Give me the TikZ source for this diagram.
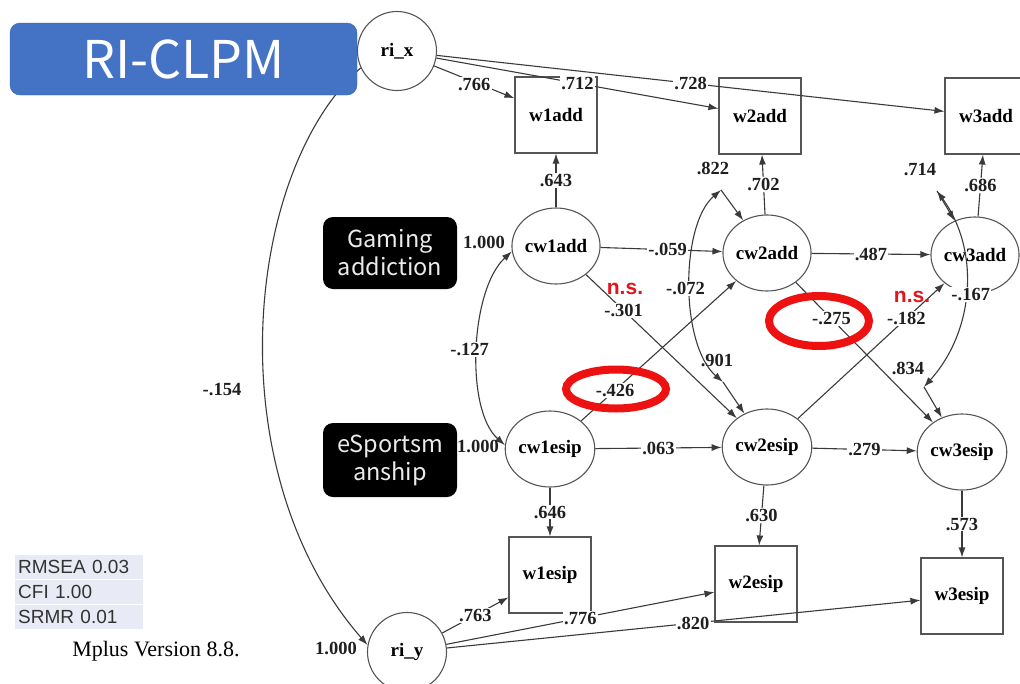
\documentclass[tikz,border=0pt]{standalone}
\usepackage{fontspec}
\setmainfont{Liberation Serif}
\newfontfamily\jpsans{Noto Sans CJK JP}
\newfontfamily\arialf{Liberation Sans}
\usetikzlibrary{shapes.geometric,arrows.meta}
\definecolor{lc}{HTML}{3A3A3A}
\definecolor{nc}{HTML}{555555}
\definecolor{riblue}{HTML}{4472C4}
\definecolor{ribord}{HTML}{3B64B0}
\definecolor{tbl}{HTML}{E8EAF5}
\definecolor{nsred}{HTML}{E3141B}
\definecolor{ringred}{HTML}{EE1111}
\begin{document}
\begin{tikzpicture}[x=1pt,y=-1pt,
  lat/.style={ellipse,draw=nc,line width=1.1pt,minimum width=82pt,minimum height=76pt,inner sep=0pt,font=\fontsize{19}{22}\selectfont\bfseries},
  ri/.style={circle,draw=nc,line width=1.1pt,minimum size=79pt,inner sep=0pt,font=\fontsize{19}{22}\selectfont\bfseries},
  obs/.style={rectangle,draw=nc,line width=1.1pt,minimum width=82pt,minimum height=76pt,inner sep=0pt,font=\fontsize{19}{22}\selectfont\bfseries},
  arr/.style={draw=lc,line width=1.1pt,-{Latex[length=10pt,width=7pt]}},
  darr/.style={draw=lc,line width=1.1pt,{Latex[length=10pt,width=7pt]}-{Latex[length=10pt,width=7pt]}},
  num/.style={font=\fontsize{18.5}{20}\selectfont\bfseries,text=black!88,fill=white,inner sep=1.2pt},
  numplain/.style={font=\fontsize{18.5}{20}\selectfont\bfseries,text=black!88,inner sep=0pt},
  ns/.style={font=\arialf\bfseries\fontsize{21}{22}\selectfont,text=nsred,inner sep=0pt},
  blk/.style={fill=black,rounded corners=10pt,minimum width=134pt,text=white!92!black,align=center,font=\jpsans\fontsize{23.5}{28}\selectfont},
  tbrow/.style={fill=tbl,anchor=west,text width=122pt,align=left,inner xsep=3pt,inner ysep=0pt,minimum height=23.5pt,text=black!80,font=\arialf\fontsize{19}{20}\selectfont},
  ring/.style={ellipse,draw=ringred,line width=8pt,inner sep=0pt}
]
\useasboundingbox (0,0) rectangle (1020,683);

% random intercepts
\node[ri] (rix) at (397,51) {ri\_x};
\node[ri] (riy) at (407,652) {ri\_y};

% -.154 covariance of random intercepts (starts behind the title box)
\draw[arr] (rix.205) .. controls (245,170) and (215,470) .. (riy.170);

% title
\node[draw=ribord,fill=riblue,rounded corners=10pt,minimum width=347pt,minimum height=72pt,inner sep=0pt,text=white,font=\jpsans\fontsize{52}{54}\selectfont] (title) at (183.5,59) {RI-CLPM};

% construct labels
\node[blk,minimum height=72pt] (ga) at (390,253) {Gaming\\addiction};
\node[blk,minimum height=74pt] (es) at (390,460) {eSportsm\\anship};

% observed
\node[obs] (w1add) at (556,115) {w1add};
\node[obs] (w2add) at (760,116) {w2add};
\node[obs] (w3add) at (986,116) {w3add};
\node[obs] (w1esip) at (550,575) {w1esip};
\node[obs] (w2esip) at (756,584) {w2esip};
\node[obs] (w3esip) at (962,596) {w3esip};

% within latents
\node[lat] (cw1add) at (556,246) {cw1add};
\node[lat] (cw2add) at (767,253) {cw2add};
\node[lat] (cw3add) at (975,255) {cw3add};
\node[lat] (cw1esip) at (550,449) {cw1esip};
\node[lat] (cw2esip) at (767,447) {cw2esip};
\node[lat] (cw3esip) at (962,452) {cw3esip};

% random intercept loadings
\draw[arr] (rix) -- (w1add) node[num,pos=0.5,yshift=-2pt] (l766) {.766};
\draw[arr] (rix) -- (w2add) node[num,pos=0.5] (l712) {.712};
\draw[arr] (rix) -- (w3add) node[num,pos=0.5] (l728) {.728};
\draw[arr] (riy) -- (w1esip) node[num,pos=0.5] (l763) {.763};
\draw[arr] (riy) -- (w2esip) node[num,pos=0.5] (l776) {.776};
\draw[arr] (riy) -- (w3esip) node[num,pos=0.52] (l820) {.820};

% within loadings
\draw[arr] (cw1add) -- (w1add) node[num,pos=0.5] (l643) {.643};
\draw[arr] (cw2add) -- (w2add) node[num,pos=0.5] (l702) {.702};
\draw[arr] (cw3add) -- (w3add) node[num,pos=0.5] (l686) {.686};
\draw[arr] (cw1esip) -- (w1esip) node[num,pos=0.5] (l646) {.646};
\draw[arr] (cw2esip) -- (w2esip) node[num,pos=0.5] (l630) {.630};
\draw[arr] (cw3esip) -- (w3esip) node[num,pos=0.5] (l573) {.573};

% autoregressive
\draw[arr] (cw1add) -- (cw2add) node[num,pos=0.55] (l059) {-.059};
\draw[arr] (cw2add) -- (cw3add) node[num,pos=0.5] (l487) {.487};
\draw[arr] (cw1esip) -- (cw2esip) node[num,pos=0.5] (l063) {.063};
\draw[arr] (cw2esip) -- (cw3esip) node[num,pos=0.5] (l279) {.279};

% cross-lagged
\draw[arr] (cw1add) -- (cw2esip) node[num,pos=0.25] (l301) {-.301};
\draw[arr] (cw1esip) -- (cw2add) node[num,pos=0.22] (l426) {-.426};
\draw[arr] (cw2add) -- (cw3esip) node[num,pos=0.26] (l275) {-.275};
\draw[arr] (cw2esip) -- (cw3add) node[num,pos=0.74] (l182) {-.182};

% residuals
\coordinate (r2a) at (721,190);
\coordinate (r2e) at (723,382);
\coordinate (r3a) at (937,191);
\coordinate (r3e) at (924,387);
\draw[arr] (r2a) -- (cw2add);
\draw[arr] (r2e) -- (cw2esip);
\draw[arr] (r3a) -- (cw3add);
\draw[arr] (r3e) -- (cw3esip);
\node[numplain] (l822) at (713,168) {.822};
\node[numplain] (l901) at (717,360) {.901};
\node[numplain] (l714) at (920,170) {.714};
\node[numplain] (l834) at (908,368) {.834};

% covariances
\draw[darr] (cw1add.187) .. controls (470,290) and (465,410) .. (cw1esip.175) node[num,pos=0.5,xshift=-8pt] (l127) {-.127};
\draw[darr] (r2a) .. controls (680,225) and (680,345) .. (r2e) node[num,pos=0.5,xshift=-5pt,yshift=-3pt] (l072) {-.072};
\draw[darr] (r3a) .. controls (980,250) and (975,330) .. (r3e) node[num,pos=0.5,xshift=5pt,yshift=-5pt] (l167) {-.167};

% variances / free labels
\node[numplain] (v1) at (484,242) {1.000};
\node[numplain] (v2) at (478,446) {1.000};
\node[numplain] (v3) at (336,648) {1.000};
\node[numplain] (l154) at (222,390) {-.154};

% n.s.
\node[ns] (ns1) at (625,289) {n.s.};
\node[ns] (ns2) at (912,297) {n.s.};

% fit table
\node[tbrow] (fit1) at (15,567) {RMSEA 0.03};
\node[tbrow] (fit2) at (15,592) {CFI 1.00};
\node[tbrow] (fit3) at (15,617) {SRMR 0.01};
\node[font=\fontsize{22}{24}\selectfont,inner sep=0pt] (mplus) at (156,651) {Mplus Version 8.8.};

% red rings
\node[ring,minimum width=100pt,minimum height=39pt] (ring1) at (616,389) {};
\node[ring,minimum width=100pt,minimum height=50pt] (ring2) at (819,321) {};
\end{tikzpicture}
\end{document}
